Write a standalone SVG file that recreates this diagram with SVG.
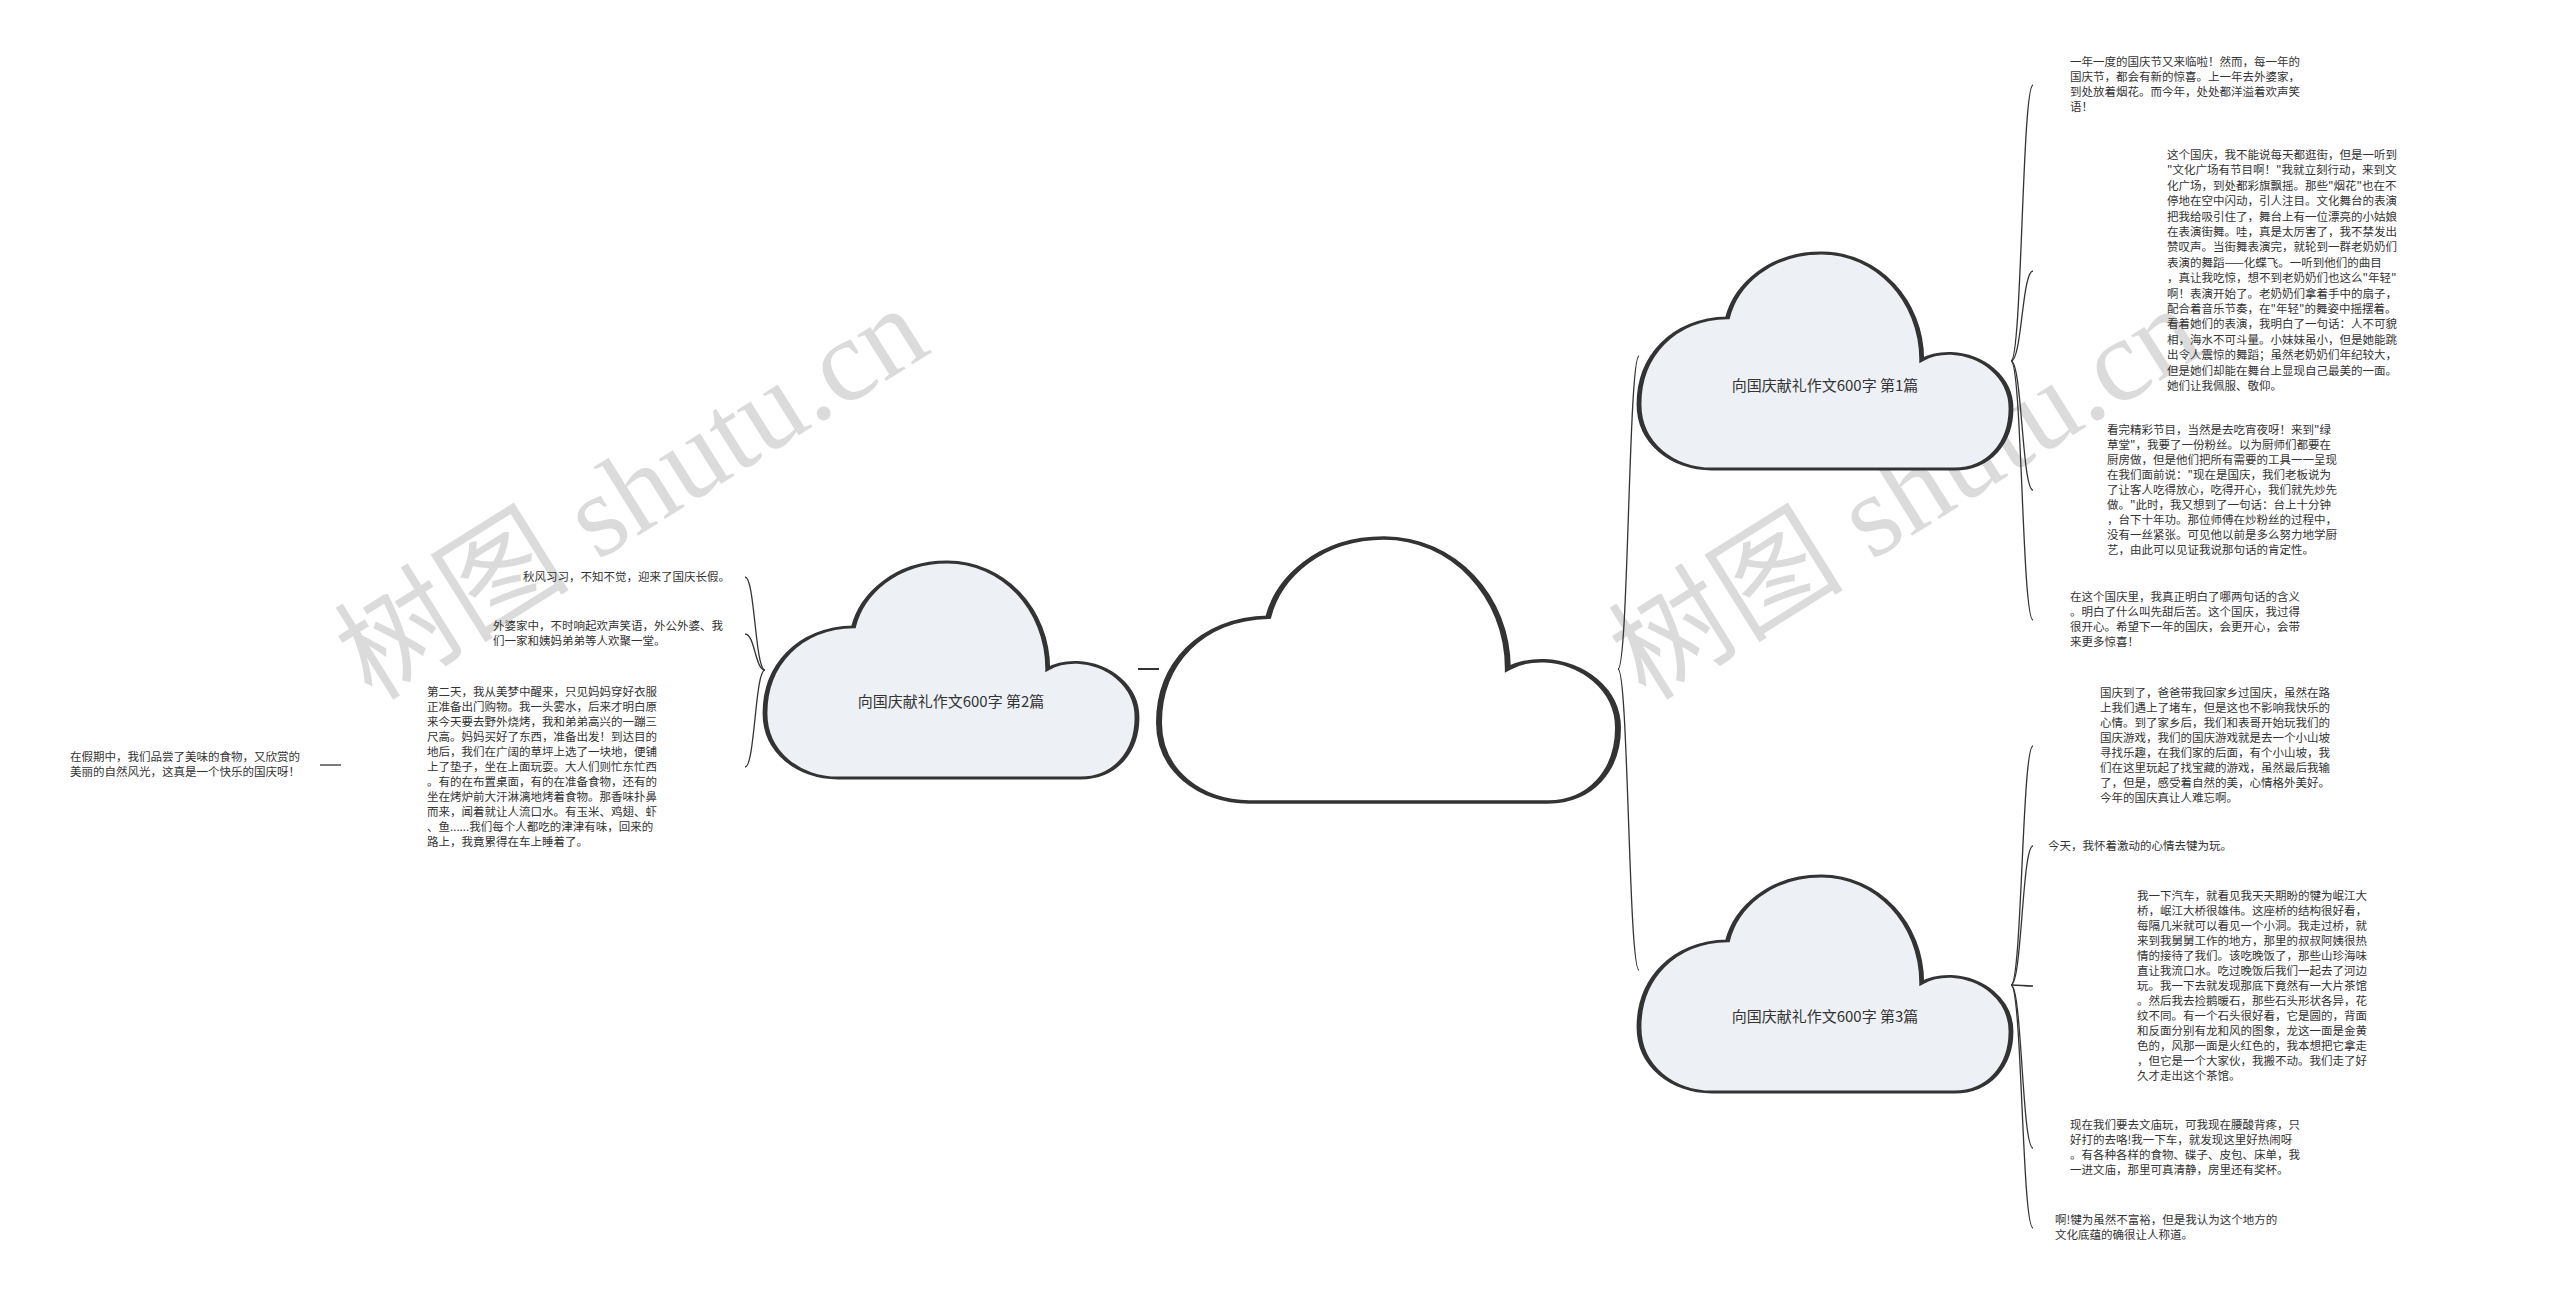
<svg xmlns="http://www.w3.org/2000/svg" width="2560" height="1297" viewBox="0 0 2560 1297">
<style>
.cloud{stroke:#333;stroke-width:1.3;fill:#edf1f5}
.root{fill:#fff}
.lbl{font-family:"Noto Sans CJK SC","Noto Sans",sans-serif;font-size:15px;fill:#333;text-anchor:middle}
.leaf{font-family:"Noto Sans CJK SC","Noto Sans",sans-serif;font-size:11.5px;fill:#333}
#connectors path{fill:none;stroke:#333;stroke-width:1.3}
.wm{font-family:"Liberation Serif","Noto Sans CJK SC",serif;font-size:118px;fill:#000;fill-opacity:0.14}
</style>
<defs>
<path id="cloudShape" d="M19.6 100 L84.8 100 C94 100 100 88 100 72 C100 57 92 47 84 46.5 C80.5 46.3 78 47.5 76 49.5 C76 22 64 0 49 0 C35 0 26 15 23.8 30 C9 30.5 0 48 0 70 C0 88 9 100 19.6 100 Z"/>
</defs>
<rect width="2560" height="1297" fill="#fff"/>
<g id="watermarks">
<text class="wm" transform="translate(372 702) rotate(-32)">树图 shutu.cn</text>
<text class="wm" transform="translate(1646 702) rotate(-32)">树图 shutu.cn</text>
</g>
<g id="connectors">
<path d="M1159 669 L1138 669" style="stroke-width:2"/>
<path d="M1618 669 C1628.5 669 1628.5 356 1639 356"/>
<path d="M1618 669 C1628.5 669 1628.5 970 1639 970"/>
<path d="M2011 361 C2022 361 2022 85 2033 85"/>
<path d="M2011 361 C2022 361 2022 271 2033 271"/>
<path d="M2011 361 C2022 361 2022 490 2033 490"/>
<path d="M2011 361 C2022 361 2022 620 2033 620"/>
<path d="M2011 985 C2022 985 2022 746 2033 746"/>
<path d="M2011 985 C2022 985 2022 846 2033 846"/>
<path d="M2011 985 C2022 985 2022 986 2033 986"/>
<path d="M2011 985 C2022 985 2022 1148 2033 1148"/>
<path d="M2011 985 C2022 985 2022 1228 2033 1228"/>
<path d="M765 670 C755 670 755 577 745 577"/>
<path d="M765 670 C755 670 755 634 745 634"/>
<path d="M765 670 C755 670 755 767 745 767"/>
<path d="M341 765 L320 765"/>
</g>
<g id="root">
<use href="#cloudShape" class="cloud root" transform="translate(1159 538) scale(4.59 2.64)" vector-effect="non-scaling-stroke"/>
</g>
<g id="node-1">
<use href="#cloudShape" class="cloud" transform="translate(1639 253) scale(3.72 2.16)" vector-effect="non-scaling-stroke"/>
<text class="lbl" x="1825" y="391">向国庆献礼作文600字 第1篇</text>
</g>
<g id="node-2">
<use href="#cloudShape" class="cloud" transform="translate(765 562) scale(3.72 2.16)" vector-effect="non-scaling-stroke"/>
<text class="lbl" x="951" y="707">向国庆献礼作文600字 第2篇</text>
</g>
<g id="node-3">
<use href="#cloudShape" class="cloud" transform="translate(1639 876) scale(3.72 2.16)" vector-effect="non-scaling-stroke"/>
<text class="lbl" x="1825" y="1022">向国庆献礼作文600字 第3篇</text>
</g>
<g id="leaf-1-1">
<text class="leaf" x="2070" y="66"><tspan x="2070">一年一度的国庆节又来临啦！然而，每一年的</tspan><tspan x="2070" dy="15">国庆节，都会有新的惊喜。上一年去外婆家，</tspan><tspan x="2070" dy="15">到处放着烟花。而今年，处处都洋溢着欢声笑</tspan><tspan x="2070" dy="15">语！</tspan></text>
</g>
<g id="leaf-1-2">
<text class="leaf" x="2167" y="159"><tspan x="2167">这个国庆，我不能说每天都逛街，但是一听到</tspan><tspan x="2167" dy="15.4">"文化广场有节目啊！"我就立刻行动，来到文</tspan><tspan x="2167" dy="15.4">化广场，到处都彩旗飘摇。那些"烟花"也在不</tspan><tspan x="2167" dy="15.4">停地在空中闪动，引人注目。文化舞台的表演</tspan><tspan x="2167" dy="15.4">把我给吸引住了，舞台上有一位漂亮的小姑娘</tspan><tspan x="2167" dy="15.4">在表演街舞。哇，真是太厉害了，我不禁发出</tspan><tspan x="2167" dy="15.4">赞叹声。当街舞表演完，就轮到一群老奶奶们</tspan><tspan x="2167" dy="15.4">表演的舞蹈——化蝶飞。一听到他们的曲目</tspan><tspan x="2167" dy="15.4">，真让我吃惊，想不到老奶奶们也这么"年轻"</tspan><tspan x="2167" dy="15.4">啊！表演开始了。老奶奶们拿着手中的扇子，</tspan><tspan x="2167" dy="15.4">配合着音乐节奏，在"年轻"的舞姿中摇摆着。</tspan><tspan x="2167" dy="15.4">看着她们的表演，我明白了一句话：人不可貌</tspan><tspan x="2167" dy="15.4">相，海水不可斗量。小妹妹虽小，但是她能跳</tspan><tspan x="2167" dy="15.4">出令人震惊的舞蹈；虽然老奶奶们年纪较大，</tspan><tspan x="2167" dy="15.4">但是她们却能在舞台上显现自己最美的一面。</tspan><tspan x="2167" dy="15.4">她们让我佩服、敬仰。</tspan></text>
</g>
<g id="leaf-1-3">
<text class="leaf" x="2107" y="434"><tspan x="2107">看完精彩节目，当然是去吃宵夜呀！来到"绿</tspan><tspan x="2107" dy="15">草堂"，我要了一份粉丝。以为厨师们都要在</tspan><tspan x="2107" dy="15">厨房做，但是他们把所有需要的工具一一呈现</tspan><tspan x="2107" dy="15">在我们面前说："现在是国庆，我们老板说为</tspan><tspan x="2107" dy="15">了让客人吃得放心，吃得开心，我们就先炒先</tspan><tspan x="2107" dy="15">做。"此时，我又想到了一句话：台上十分钟</tspan><tspan x="2107" dy="15">，台下十年功。那位师傅在炒粉丝的过程中，</tspan><tspan x="2107" dy="15">没有一丝紧张。可见他以前是多么努力地学厨</tspan><tspan x="2107" dy="15">艺，由此可以见证我说那句话的肯定性。</tspan></text>
</g>
<g id="leaf-1-4">
<text class="leaf" x="2070" y="601"><tspan x="2070">在这个国庆里，我真正明白了哪两句话的含义</tspan><tspan x="2070" dy="15">。明白了什么叫先甜后苦。这个国庆，我过得</tspan><tspan x="2070" dy="15">很开心。希望下一年的国庆，会更开心，会带</tspan><tspan x="2070" dy="15">来更多惊喜！</tspan></text>
</g>
<g id="leaf-3-1">
<text class="leaf" x="2100" y="697"><tspan x="2100">国庆到了，爸爸带我回家乡过国庆，虽然在路</tspan><tspan x="2100" dy="15">上我们遇上了堵车，但是这也不影响我快乐的</tspan><tspan x="2100" dy="15">心情。到了家乡后，我们和表哥开始玩我们的</tspan><tspan x="2100" dy="15">国庆游戏，我们的国庆游戏就是去一个小山坡</tspan><tspan x="2100" dy="15">寻找乐趣，在我们家的后面，有个小山坡，我</tspan><tspan x="2100" dy="15">们在这里玩起了找宝藏的游戏，虽然最后我输</tspan><tspan x="2100" dy="15">了，但是，感受着自然的美，心情格外美好。</tspan><tspan x="2100" dy="15">今年的国庆真让人难忘啊。</tspan></text>
</g>
<g id="leaf-3-2">
<text class="leaf" x="2048" y="850">今天，我怀着激动的心情去犍为玩。</text>
</g>
<g id="leaf-3-3">
<text class="leaf" x="2137" y="900"><tspan x="2137">我一下汽车，就看见我天天期盼的犍为岷江大</tspan><tspan x="2137" dy="15">桥，岷江大桥很雄伟。这座桥的结构很好看，</tspan><tspan x="2137" dy="15">每隔几米就可以看见一个小洞。我走过桥，就</tspan><tspan x="2137" dy="15">来到我舅舅工作的地方，那里的叔叔阿姨很热</tspan><tspan x="2137" dy="15">情的接待了我们。该吃晚饭了，那些山珍海味</tspan><tspan x="2137" dy="15">直让我流口水。吃过晚饭后我们一起去了河边</tspan><tspan x="2137" dy="15">玩。我一下去就发现那底下竟然有一大片茶馆</tspan><tspan x="2137" dy="15">。然后我去捡鹅暖石，那些石头形状各异，花</tspan><tspan x="2137" dy="15">纹不同。有一个石头很好看，它是圆的，背面</tspan><tspan x="2137" dy="15">和反面分别有龙和风的图象，龙这一面是金黄</tspan><tspan x="2137" dy="15">色的，风那一面是火红色的，我本想把它拿走</tspan><tspan x="2137" dy="15">，但它是一个大家伙，我搬不动。我们走了好</tspan><tspan x="2137" dy="15">久才走出这个茶馆。</tspan></text>
</g>
<g id="leaf-3-4">
<text class="leaf" x="2070" y="1129"><tspan x="2070">现在我们要去文庙玩，可我现在腰酸背疼，只</tspan><tspan x="2070" dy="15">好打的去咯!我一下车，就发现这里好热闹呀</tspan><tspan x="2070" dy="15">。有各种各样的食物、碟子、皮包、床单，我</tspan><tspan x="2070" dy="15">一进文庙，那里可真清静，房里还有奖杯。</tspan></text>
</g>
<g id="leaf-3-5">
<text class="leaf" x="2055" y="1224"><tspan x="2055">啊!犍为虽然不富裕，但是我认为这个地方的</tspan><tspan x="2055" dy="15">文化底蕴的确很让人称道。</tspan></text>
</g>
<g id="leaf-2-1">
<text class="leaf" x="523" y="581">秋风习习，不知不觉，迎来了国庆长假。</text>
</g>
<g id="leaf-2-2">
<text class="leaf" x="493" y="630"><tspan x="493">外婆家中，不时响起欢声笑语，外公外婆、我</tspan><tspan x="493" dy="15">们一家和姨妈弟弟等人欢聚一堂。</tspan></text>
</g>
<g id="leaf-2-3">
<text class="leaf" x="427" y="696"><tspan x="427">第二天，我从美梦中醒来，只见妈妈穿好衣服</tspan><tspan x="427" dy="15">正准备出门购物。我一头雾水，后来才明白原</tspan><tspan x="427" dy="15">来今天要去野外烧烤，我和弟弟高兴的一蹦三</tspan><tspan x="427" dy="15">尺高。妈妈买好了东西，准备出发！到达目的</tspan><tspan x="427" dy="15">地后，我们在广阔的草坪上选了一块地，便铺</tspan><tspan x="427" dy="15">上了垫子，坐在上面玩耍。大人们则忙东忙西</tspan><tspan x="427" dy="15">。有的在布置桌面，有的在准备食物，还有的</tspan><tspan x="427" dy="15">坐在烤炉前大汗淋漓地烤着食物。那香味扑鼻</tspan><tspan x="427" dy="15">而来，闻着就让人流口水。有玉米、鸡翅、虾</tspan><tspan x="427" dy="15">、鱼......我们每个人都吃的津津有味，回来的</tspan><tspan x="427" dy="15">路上，我竟累得在车上睡着了。</tspan></text>
</g>
<g id="leaf-2-3-1">
<text class="leaf" x="70" y="761"><tspan x="70">在假期中，我们品尝了美味的食物，又欣赏的</tspan><tspan x="70" dy="15">美丽的自然风光，这真是一个快乐的国庆呀！</tspan></text>
</g>
</svg>
